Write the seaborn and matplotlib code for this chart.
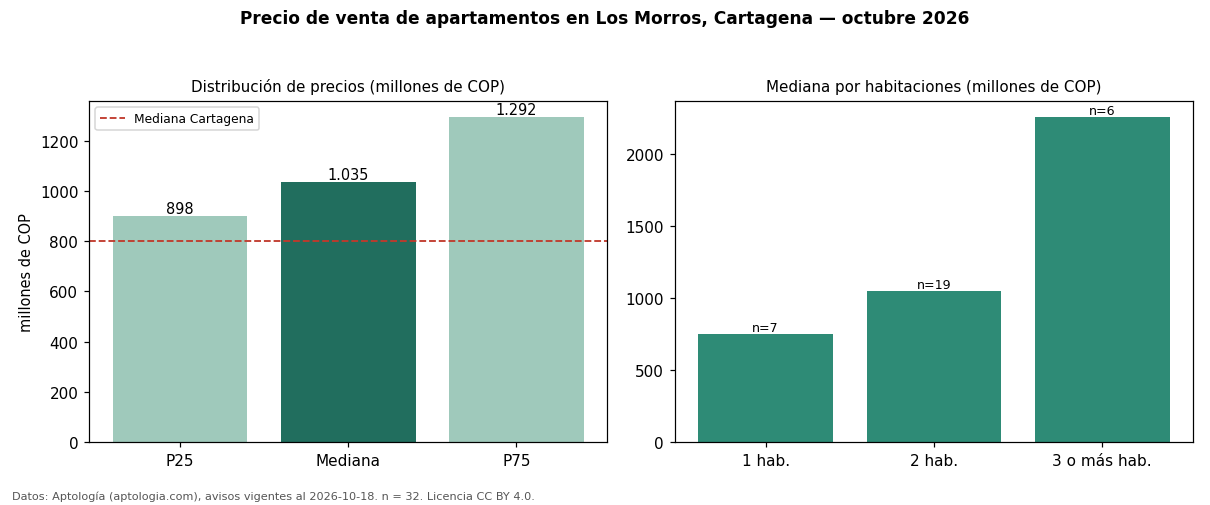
import seaborn as sns
import matplotlib.pyplot as plt
import pandas as pd

# price distribution (millions COP)
dist_labels = ["P25", "Mediana", "P75"]
dist_values = [898, 1035, 1292]
cartagena_median = 800

# median by bedrooms
room_labels = ["1 hab.", "2 hab.", "3 o más hab."]
room_values = [750, 1050, 2250]
room_counts = [7, 19, 6]

df_dist = pd.DataFrame({"k": dist_labels, "v": dist_values})
df_rooms = pd.DataFrame({"k": room_labels, "v": room_values})

fig, axes = plt.subplots(1, 2, figsize=(11, 4.6), dpi=110)
plt.subplots_adjust(left=0.0736, right=0.986, top=0.798, bottom=0.1245, wspace=0.13)

ax = axes[0]
sns.barplot(data=df_dist, x="k", y="v", hue="k", legend=False,
            palette=["#9fc9bb", "#216e5e", "#9fc9bb"], ax=ax, saturation=1)
ax.axhline(cartagena_median, color="#c0392b", ls="--", lw=1.2, label="Mediana Cartagena")
for i, v in enumerate(dist_values):
    ax.text(i, v, f"{v:,}".replace(",", "."), ha="center", va="bottom", fontsize=9.5)
ax.set_title("Distribución de precios (millones de COP)", fontsize=9.9, pad=7)
ax.set_xlabel("")
ax.set_ylabel("millones de COP", fontsize=9.5)
ax.legend(loc="upper left", fontsize=8)

ax = axes[1]
sns.barplot(data=df_rooms, x="k", y="v", color="#2e8b76", ax=ax, saturation=1)
for i, (v, n) in enumerate(zip(room_values, room_counts)):
    ax.text(i, v, f"n={n}", ha="center", va="bottom", fontsize=8.3)
ax.set_title("Mediana por habitaciones (millones de COP)", fontsize=9.9, pad=7)
ax.set_xlabel("")
ax.set_ylabel("")

for a in axes:
    a.tick_params(labelsize=10)
    a.set_xlim(-0.54, 2.54)

fig.suptitle("Precio de venta de apartamentos en Los Morros, Cartagena — octubre 2026",
             fontsize=11.1, fontweight="bold", y=0.98)
fig.text(0.01, 0.012, "Datos: Aptología (aptologia.com), avisos vigentes al 2026-10-18. n = 32. Licencia CC BY 4.0.",
         fontsize=7.4, color="#555555")

plt.savefig("out.png", dpi=110)
